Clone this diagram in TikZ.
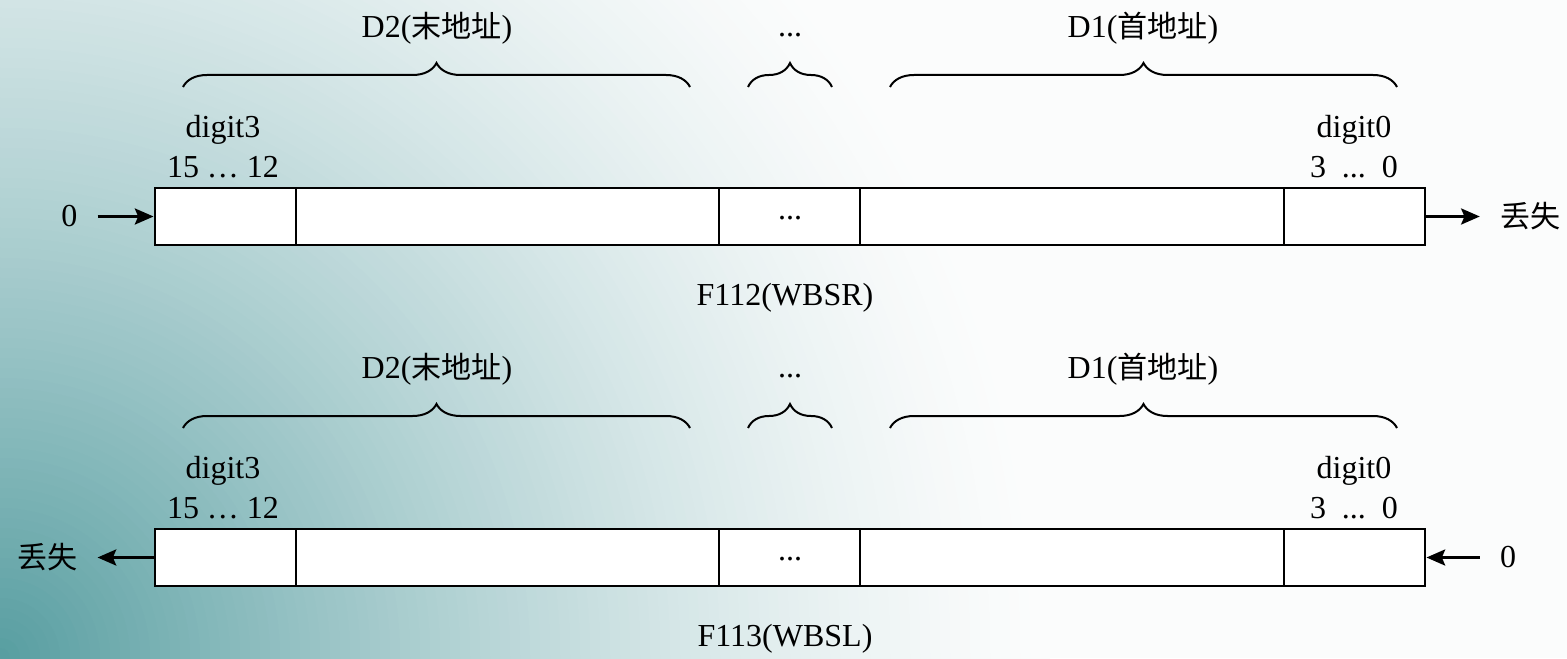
\documentclass[tikz,border=0pt]{standalone}
\usepackage{fontspec}
\setmainfont{Liberation Serif}
\newfontfamily\cjk[Scale=0.94]{Noto Sans CJK SC}
\usepackage{tikz}
\usetikzlibrary{arrows.meta, positioning, decorations.pathreplacing}
\definecolor{BgTeal}{RGB}{86, 157, 160}
\definecolor{BgWhite}{RGB}{251, 252, 252}

\tikzset{
  lbl/.style={font=\fontsize{24}{30}\selectfont, inner sep=0pt, align=center},
  side/.style={lbl, inner xsep=15pt},
  regbox/.style={draw, fill=white, line width=2.2pt, minimum width=952.5pt, minimum height=42.75pt, inner sep=0pt},
  cut/.style={line width=2.2pt},
  arw/.style={line width=2.2pt, -{Stealth[length=14pt, width=12pt, inset=2.5pt]}},
  brc/.style={line width=1.5pt, decorate, decoration={brace, amplitude=18pt}}
}

\begin{document}
\begin{tikzpicture}[x=0.75pt,y=0.75pt]
  \useasboundingbox (0,0) rectangle (1567,658);
  % background fading out from the lower left corner
  \begin{scope}
    \clip (0,0) rectangle (1567,658);
    \fill[BgWhite] (0,0) rectangle (1567,658);
    \foreach \r in {1050,1040,...,10}{
      \pgfmathsetmacro\p{100*(1-\r/1050)^1.4}
      \fill[BgTeal!\p!BgWhite] (0,0) circle (\r);
    }
  \end{scope}

  % two shift registers, the second 341 units lower
  \foreach \r/\dy/\nm in {A/0/F112(WBSR), B/341/F113(WBSL)}{
    \node[regbox] (reg\r) at (790,441.5-\dy) {};
    \foreach \x in {296,719,860,1284}{
      \draw[cut] (\x,413-\dy) -- (\x,470-\dy);
    }
    \node[lbl] (gap\r) at (790,440-\dy) {...};
    \node[lbl] (hi\r) at (223,511-\dy) {digit3\\15 … 12};
    \node[lbl] (lo\r) at (1354,511-\dy) {digit0\\3~~...~~0};
    % address braces
    \draw[brc] (183,571-\dy) -- (690,571-\dy);
    \draw[brc] (748,571-\dy) -- (832,571-\dy);
    \draw[brc] (890,571-\dy) -- (1397,571-\dy);
    \node[lbl] (endw\r) at (437,630-\dy) {D2({\cjk 末地址})};
    \node[lbl] (midw\r) at (790,623-\dy) {...};
    \node[lbl] (startw\r) at (1143,630-\dy) {D1({\cjk 首地址})};
    \node[lbl] (name\r) at (785,360-\dy) {\nm};
  }

  % shift right: 0 in, digit0 lost
  \node[side, left=42pt of regA] (zeroA) {0};
  \node[side, right=40pt of regA] (lossA) {\cjk 丢失};
  \draw[arw] (zeroA) -- (regA);
  \draw[arw] (regA) -- (lossA);

  % shift left: digit3 lost, 0 in
  \node[side, left=42pt of regB] (lossB) {\cjk 丢失};
  \node[side, right=40pt of regB] (zeroB) {0};
  \draw[arw] (regB) -- (lossB);
  \draw[arw] (zeroB) -- (regB);
\end{tikzpicture}
\end{document}
